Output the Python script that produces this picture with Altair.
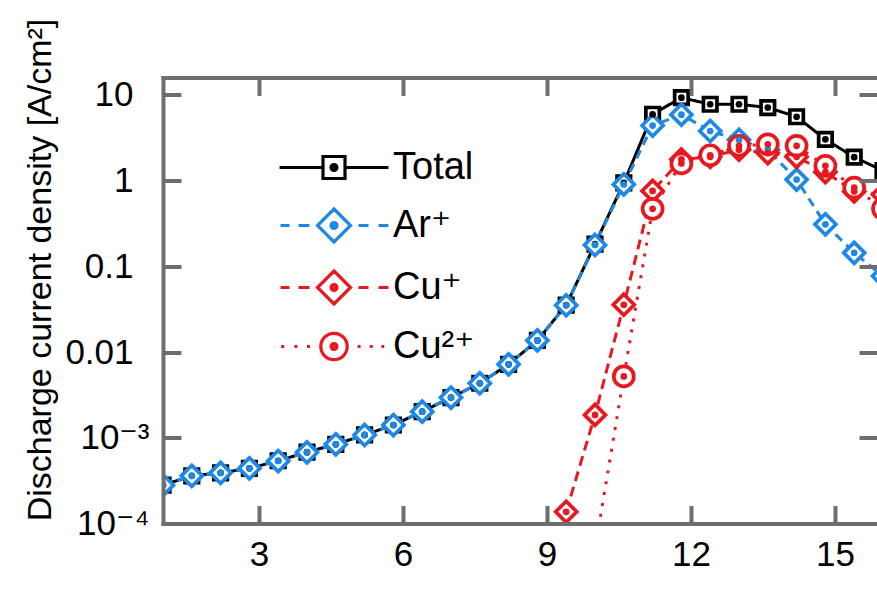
import altair as alt
import pandas as pd

# ---------------- data ----------------
x_vals = [1.0, 1.6, 2.2, 2.8, 3.4, 4.0, 4.6, 5.2, 5.8, 6.4, 7.0, 7.6, 8.2,
          8.8, 9.4, 10.0, 10.6, 11.2, 11.8, 12.4, 13.0, 13.6, 14.2, 14.8,
          15.4, 16.0]

total = [2.8e-4, 3.6e-4, 3.9e-4, 4.4e-4, 5.4e-4, 6.8e-4, 8.4e-4, 1.08e-3,
         1.41e-3, 2.02e-3, 2.95e-3, 4.33e-3, 7.2e-3, 0.0137, 0.0354, 0.182,
         0.945, 5.96, 9.3, 7.8, 7.8, 7.14, 5.57, 3.04, 1.88, 1.31]

ar_plus = [2.8e-4, 3.6e-4, 3.9e-4, 4.4e-4, 5.36e-4, 6.76e-4, 8.4e-4, 1.08e-3,
           1.41e-3, 2.02e-3, 2.95e-3, 4.33e-3, 7.2e-3, 0.0137, 0.0352, 0.178,
           0.905, 4.4, 5.9, 3.8, 3.0, 2.3, 1.03, 0.31, 0.144, 0.077]

cu_plus = [None] * 14 + [1.37e-4, 1.85e-3, 0.0357, 0.76, 1.77, 1.9, 2.3,
                         2.1, 1.9, 1.26, 0.75, 0.69]

cu2_plus = [None] * 15 + [5e-5, 5.2e-3, 0.47, 1.59, 1.98, 2.55, 2.66, 2.55,
                          1.49, 0.83, 0.47]

series_names = ["Total", "Ar⁺", "Cu⁺", "Cu²⁺"]
series_values = [total, ar_plus, cu_plus, cu2_plus]
series_colors = ["#000000", "#1e88e5", "#e8181e", "#e8181e"]
series_dashes = [[1, 0], [9, 6], [10, 6], [3, 8]]

x_ticks = [3, 6, 9, 12, 15]
y_tick_values = [1e-4, 1e-3, 1e-2, 1e-1, 1, 10]
y_plain_values = [1e-2, 1e-1, 1, 10]
y_plain_labels = ["0.01", "0.1", "1", "10"]
y_power_values = [1e-4, 1e-3]
y_power_labels = ["10⁻⁴", "10⁻³"]

rows = []
for name, vals in zip(series_names, series_values):
    for xv, yv in zip(x_vals, vals):
        if yv is not None:
            rows.append({"x": xv, "y": yv, "series": name})
df = pd.DataFrame(rows)

# ---------------- styling ----------------
W, H = 714, 446
FONT = "Liberation Sans, Arial, DejaVu Sans"
GRAY = "#6e6e6e"

# marker paths (unit = sqrt(size)/2 = 5 px)
marker_paths = [
    "M-1.35,-1.35H1.35V1.35H-1.35Z",
    "M0,-2.1L2.1,0L0,2.1L-2.1,0Z",
    "M0,-2.1L2.1,0L0,2.1L-2.1,0Z",
    "M-2,0A2,2 0 1,0 2,0A2,2 0 1,0 -2,0",
]

dot = ("M-0.12,0A0.12,0.12 0 1,0 0.12,0A0.12,0.12 0 1,0 -0.12,0"
       "M-0.27,0A0.27,0.27 0 1,0 0.27,0A0.27,0.27 0 1,0 -0.27,0")
dashes = "M-4.86,0H-4.05M-3.23,0H-2.23M2.23,0H3.14M4.05,0H4.95"
dots = ("M-4.8,0H-4.53M-3.6,0H-3.33M-2.45,0H-2.18"
        "M2.15,0H2.42M3.25,0H3.52M4.3,0H4.57")
legend_paths = [
    "M-4.95,0H-1M1,0H4.95M-1,-1H1V1H-1Z" + dot,
    dashes + "M0,-1.5L1.5,0L0,1.5L-1.5,0Z" + dot,
    dashes + "M0,-1.5L1.5,0L0,1.5L-1.5,0Z" + dot,
    dots + "M-1.2,0A1.2,1.2 0 1,0 1.2,0A1.2,1.2 0 1,0 -1.2,0" + dot,
]


def label_expr(vals, labels):
    parts = []
    for v, lab in zip(vals[:-1], labels[:-1]):
        parts.append(f"datum.value < {v * 3.1623:.6g} ? '{lab}' : ")
    return "".join(parts) + f"'{labels[-1]}'"


xscale = alt.Scale(domain=[1, 15.875], nice=False, zero=False)
yscale = alt.Scale(type="log", domain=[1e-4, 16], nice=False)
color_scale = alt.Scale(domain=series_names, range=series_colors)

tick_common = dict(ticks=True, tickSize=18, tickWidth=4, tickColor=GRAY,
                   labels=False, grid=False, title=None, zindex=1)
label_common = dict(ticks=False, tickSize=0, labelFont=FONT, labelFontSize=35,
                    labelColor="black", labelOverlap=False, grid=False, zindex=1)

X1 = alt.Axis(orient="bottom", values=x_ticks, domain=True, domainColor=GRAY,
              domainWidth=4, domainCap="square", labelPadding=14, title=None,
              **label_common)
Y1 = alt.Axis(orient="left", values=y_plain_values,
              labelExpr=label_expr(y_plain_values, y_plain_labels),
              domain=True, domainColor=GRAY, domainWidth=4, domainCap="square",
              labelPadding=30, **label_common,
              title="Discharge current density [A/cm²]", titleFont=FONT,
              titleFontSize=34, titleFontWeight="normal", titleColor="black",
              titleAngle=270, titleAlign="center", titleBaseline="alphabetic",
              titleX=-113, titleY=192)
Y4 = alt.Axis(orient="left", values=y_power_values,
              labelExpr=label_expr(y_power_values, y_power_labels),
              domain=False, labelPadding=14, title=None, **label_common)
X2 = alt.Axis(orient="top", offset=-H, values=x_ticks, domain=False, **tick_common)
X3 = alt.Axis(orient="bottom", offset=-H, values=x_ticks, domain=True,
              domainColor=GRAY, domainWidth=4, domainCap="square", **tick_common)
Y2 = alt.Axis(orient="right", offset=-W, values=y_tick_values, domain=False, **tick_common)
Y3 = alt.Axis(orient="left", offset=-W, values=y_tick_values, domain=False, **tick_common)

base = alt.Chart(df)

lines = base.mark_line(clip=True, strokeWidth=3).encode(
    x=alt.X("x:Q", scale=xscale, axis=X1),
    y=alt.Y("y:Q", scale=yscale, axis=Y1),
    color=alt.Color("series:N", scale=color_scale, legend=None),
    strokeDash=alt.StrokeDash("series:N",
                              scale=alt.Scale(domain=series_names, range=series_dashes),
                              legend=None),
)

markers = base.mark_point(clip=True, filled=False, size=100, strokeWidth=3.7,
                          opacity=1).encode(
    x=alt.X("x:Q", scale=xscale, axis=X2),
    y=alt.Y("y:Q", scale=yscale, axis=Y2),
    stroke=alt.Stroke("series:N", scale=color_scale, legend=None),
    fill=alt.value("white"),
    shape=alt.Shape("series:N",
                    scale=alt.Scale(domain=series_names, range=marker_paths),
                    legend=None),
)

centers = base.mark_circle(clip=True, size=45, opacity=1).encode(
    x=alt.X("x:Q", scale=xscale, axis=X3),
    y=alt.Y("y:Q", scale=yscale, axis=Y3),
    color=alt.Color("series:N", scale=color_scale, legend=None),
)

legend_props = dict(orient="none", legendX=98, legendY=71, title=None,
                    direction="vertical", symbolSize=484, symbolStrokeWidth=3.2,
                    symbolOffset=54, labelOffset=40, labelFont=FONT,
                    labelFontSize=38, labelColor="black", labelLimit=400,
                    rowPadding=16, padding=0, symbolFillColor="white",
                    symbolOpacity=1)

legend_layer = base.transform_filter("false").mark_point(
    filled=False, size=484, strokeWidth=3, opacity=1).encode(
    x=alt.X("x:Q", scale=xscale, axis=None),
    y=alt.Y("y:Q", scale=yscale, axis=Y4),
    stroke=alt.Stroke("series:N", scale=color_scale, legend=alt.Legend(**legend_props)),
    fill=alt.value("white"),
    shape=alt.Shape("series:N",
                    scale=alt.Scale(domain=series_names, range=legend_paths),
                    legend=alt.Legend(**legend_props)),
)

chart = alt.layer(lines, markers, centers, legend_layer).resolve_scale(
    color="independent", stroke="independent", shape="independent",
    strokeDash="independent"
).resolve_axis(x="independent", y="independent").properties(
    width=W, height=H,
    autosize=alt.AutoSizeParams(type="none"),
    padding={"left": 163, "top": 77.5, "right": 0, "bottom": 65.5},
    background="white",
).configure_view(strokeWidth=0)

chart.save("out.html", embed_options={"renderer": "svg", "actions": False})
